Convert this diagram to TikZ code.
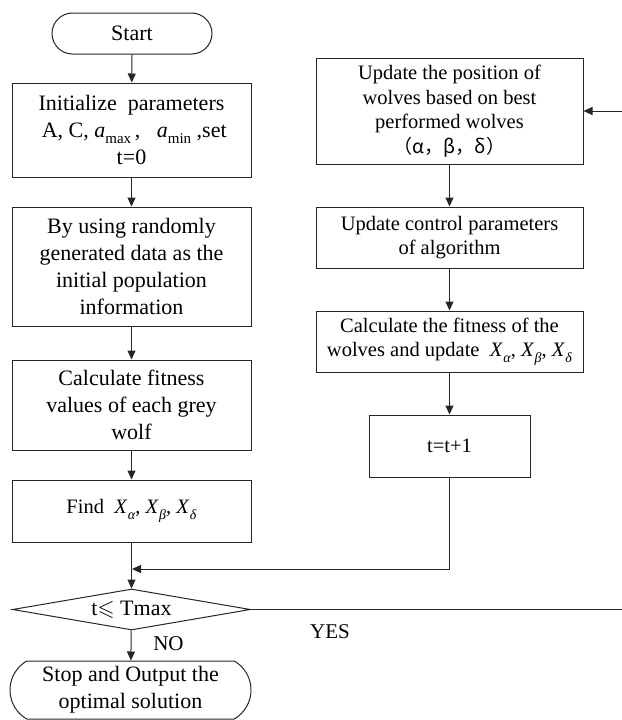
\documentclass[tikz,border=0pt]{standalone}
\usepackage{fontspec}
\usepackage{amssymb}
\setmainfont{Liberation Serif}
\newfontfamily\cjkf{Noto Sans CJK SC}
\usetikzlibrary{shapes.geometric,shapes.misc,arrows.meta}
\newcommand{\Xsub}[1]{\textit{X}\kern0.3pt\raisebox{-0.28em}{\fontsize{14}{14}\selectfont\textit{#1}}}
\newcommand{\asub}[1]{\textit{a}\raisebox{-0.25em}{\fontsize{15}{15}\selectfont #1}}
\begin{document}
\begin{tikzpicture}[x=1pt,y=-1pt,line width=1pt,draw=black!85,
  box/.style={draw,rectangle,inner sep=0pt,align=center},
  term/.style={draw,rounded rectangle,inner sep=0pt,align=center},
  dec/.style={draw,diamond,inner sep=0pt,aspect=5.8},
  arr/.style={draw=black!85,-{Triangle[length=9pt,width=8pt]}},
  lft/.style={font=\fontsize{22}{27}\selectfont},
  rgt/.style={font=\fontsize{20.5}{24.5}\selectfont},
  lbl/.style={font=\fontsize{21}{25}\selectfont,inner sep=0pt}]
\useasboundingbox (0,0) rectangle (621,720);
% left column
\node[term,minimum width=160pt,minimum height=41pt,lft] (start) at (132,33.5) {Start};
\node[box,minimum width=239pt,minimum height=94pt,lft] (init) at (131.5,130)
  {Initialize\ \ parameters\\ \ A, C, \asub{max}\,,\ \ \ \asub{min}\ ,set\\ t=0};
\node[box,minimum width=239pt,minimum height=119pt,lft] (data) at (131.5,266.5)
  {By using randomly\\generated data as the\\initial population\\information};
\node[box,minimum width=239pt,minimum height=90pt,lft] (calc) at (131.5,405)
  {Calculate fitness\\values of each grey\\wolf};
\node[box,minimum width=239pt,minimum height=62pt,rgt] (find) at (131.5,511)
  {Find \ \Xsub{α}, \Xsub{β}, \Xsub{δ}};
\node[dec,minimum width=238pt,minimum height=41pt,lft] (dia) at (131.5,609.5)
  {t$\leqslant$ Tmax};
\node[term,rounded rectangle arc length=120,minimum width=241pt,minimum height=58pt,lft] (stop) at (130.5,690)
  {Stop and Output the\\optimal solution};
% right column
\node[box,minimum width=267pt,minimum height=106pt,rgt] (upd) at (449.5,111)
  {Update the position of\\wolves based on best\\performed wolves\\{\cjkf\fontsize{19}{24.5}\selectfont （α，β，δ）}};
\node[box,minimum width=267pt,minimum height=61pt,rgt] (ctrl) at (449.5,237.5)
  {Update control parameters\\of algorithm};
\node[box,minimum width=267pt,minimum height=61pt,rgt] (fit) at (449.5,341.5)
  {Calculate the fitness of the\\wolves and update \ \Xsub{α}, \Xsub{β}, \Xsub{δ}};
\node[box,minimum width=161pt,minimum height=62pt,rgt] (inc) at (449.5,446) {t=t+1};
% coordinates
\coordinate (re) at (623,609.5);
\coordinate (mg) at (132,569);
% connectors
\draw[arr] (start) -- (init);
\draw[arr] (init) -- (data);
\draw[arr] (data) -- (calc);
\draw[arr] (calc) -- (find);
\draw[arr] (find) -- (dia);
\draw[arr] (dia) -- (stop);
\draw[arr] (dia.east) -- (re) |- (upd.east);
\draw[arr] (upd) -- (ctrl);
\draw[arr] (ctrl) -- (fit);
\draw[arr] (fit) -- (inc);
\draw[arr] (inc.south) |- (mg);
% labels
\node[lbl] (yes) at (330,632) {YES};
\node[lbl] (no) at (168.5,644) {NO};
\end{tikzpicture}
\end{document}
